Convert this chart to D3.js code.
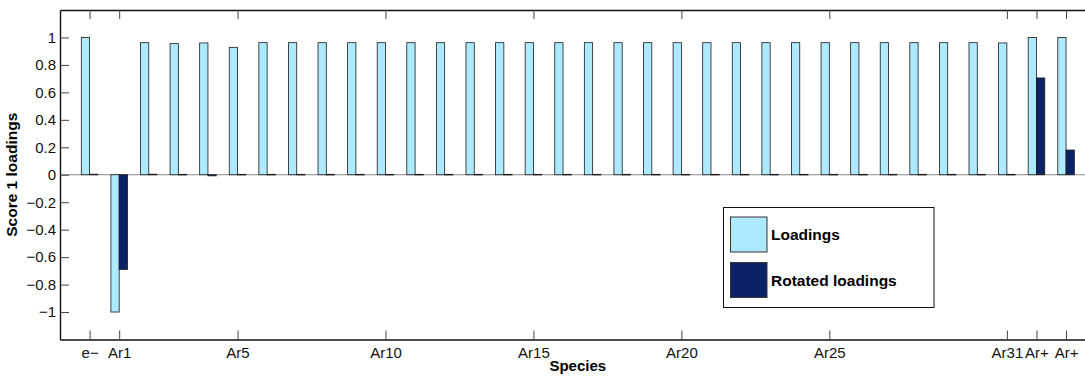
<!DOCTYPE html>
<html>
<head>
<meta charset="utf-8">
<script src="https://cdn.jsdelivr.net/npm/d3@7"></script>
<style>
  body { margin: 0; background: #fff; }
  svg { display: block; font-family: "Liberation Sans", Arial, Helvetica, sans-serif; }
</style>
</head>
<body>
<div id="chart"></div>
<script>
// categories along x (one per position 1..34)
var species = ['e\u2212', 'Ar1', 'Ar2', 'Ar3', 'Ar4', 'Ar5', 'Ar6', 'Ar7', 'Ar8', 'Ar9', 'Ar10',
  'Ar11', 'Ar12', 'Ar13', 'Ar14', 'Ar15', 'Ar16', 'Ar17', 'Ar18', 'Ar19', 'Ar20',
  'Ar21', 'Ar22', 'Ar23', 'Ar24', 'Ar25', 'Ar26', 'Ar27', 'Ar28', 'Ar29', 'Ar30', 'Ar31',
  'Ar+', 'Ar+'];

var loadings = [1.0, -1.0, 0.962, 0.955, 0.960, 0.928, 0.962, 0.962, 0.962, 0.962, 0.962,
  0.962, 0.962, 0.962, 0.962, 0.962, 0.962, 0.962, 0.962, 0.962, 0.962,
  0.962, 0.962, 0.962, 0.962, 0.962, 0.962, 0.962, 0.962, 0.962, 0.962, 0.960,
  1.0, 1.0];

var rotated = [0.004, -0.69, 0.004, 0.003, -0.008, 0.003, 0.003, 0.003, 0.003, 0.003, 0.003,
  0.003, 0.003, 0.003, 0.003, 0.003, 0.003, 0.003, 0.003, 0.003, 0.003,
  0.003, 0.003, 0.003, 0.003, 0.003, 0.003, 0.003, 0.003, 0.003, 0.003, 0.003,
  0.705, 0.18];

// labelled x ticks (position -> label)
var xTickPos = [1, 2, 6, 11, 16, 21, 26, 32, 33, 34];
var yTicks = [-1, -0.8, -0.6, -0.4, -0.2, 0, 0.2, 0.4, 0.6, 0.8, 1];

var seriesNames = ['Loadings', 'Rotated loadings'];
var seriesColors = ['#aeeaff', '#0b2366'];

(function() {
  var W = 1085, H = 377;
  var mLeft = 60, mTop = 10, mBottom = 339.5, step = 29.59;

  var svg = d3.select('#chart').append('svg').attr('width', W).attr('height', H);

  var x = d3.scaleLinear().domain([0, 35]).range([mLeft, mLeft + 35 * step]);
  var y = d3.scaleLinear().domain([-1.2, 1.2]).range([mBottom, mTop]);
  var bw = 0.28;

  var fmt = function(v) {
    var s = (Math.round(v * 10) / 10).toString();
    return s.replace('-', '\u2212');
  };

  // baseline
  svg.append('line')
    .attr('x1', x(0)).attr('x2', x(35))
    .attr('y1', y(0)).attr('y2', y(0))
    .attr('stroke', '#8a8a8a').attr('stroke-width', 1);

  var data = species.map(function(s, i) {
    return { pos: i + 1, a: loadings[i], b: rotated[i] };
  });

  var drawBars = function(key, off, color) {
    svg.append('g').selectAll('rect').data(data).enter().append('rect')
      .attr('x', function(d) { return x(d.pos + off); })
      .attr('width', x(bw) - x(0))
      .attr('y', function(d) { return y(Math.max(0, d[key])); })
      .attr('height', function(d) { return Math.max(0.6, Math.abs(y(d[key]) - y(0))); })
      .attr('fill', color)
      .attr('stroke', '#1a1a1a').attr('stroke-width', 0.8);
  };
  drawBars('a', -bw, seriesColors[0]);
  drawBars('b', 0, seriesColors[1]);

  // axes box (left, top, bottom; right side runs off the page)
  var tickLen = 9;
  var xAxisB = d3.axisBottom(x).tickValues(xTickPos).tickSizeInner(-tickLen).tickSizeOuter(0)
    .tickPadding(8).tickFormat(function(d) { return species[d - 1]; });
  var gx = svg.append('g').attr('transform', 'translate(0,' + mBottom + ')').call(xAxisB);
  var xAxisT = d3.axisTop(x).tickValues(xTickPos).tickSizeInner(-tickLen).tickSizeOuter(0)
    .tickFormat('');
  var gxt = svg.append('g').attr('transform', 'translate(0,' + mTop + ')').call(xAxisT);
  var yAxisL = d3.axisLeft(y).tickValues(yTicks).tickSizeInner(-tickLen).tickSizeOuter(0)
    .tickFormat(fmt);
  var gy = svg.append('g').attr('transform', 'translate(' + mLeft + ',0)').call(yAxisL);

  [gx, gxt, gy].forEach(function(g) {
    g.select('.domain').attr('stroke', '#111').attr('stroke-width', 1.4);
    g.selectAll('.tick line').attr('stroke', '#444').attr('stroke-width', 1);
    g.selectAll('.tick text').attr('fill', '#111').style('font-size', '15px')
      .style('font-family', '"Liberation Sans", Arial, sans-serif');
  });
  gy.selectAll('.tick text').attr('x', -4);
  gx.selectAll('.tick text').attr('dy', '0.7em');

  // axis titles
  svg.append('text')
    .attr('x', (x(0) + x(35)) / 2).attr('y', 371)
    .attr('text-anchor', 'middle')
    .style('font-size', '15px').style('font-weight', 'bold')
    .text('Species');

  svg.append('text')
    .attr('transform', 'translate(17,' + y(0) + ')rotate(-90)')
    .attr('text-anchor', 'middle')
    .style('font-size', '15.5px').style('font-weight', 'bold')
    .text('Score 1 loadings');

  // legend
  var lg = svg.append('g');
  lg.append('rect')
    .attr('x', 723.5).attr('y', 207.5).attr('width', 210.5).attr('height', 100)
    .attr('fill', '#fff').attr('stroke', '#111').attr('stroke-width', 1);
  seriesNames.forEach(function(n, i) {
    var yy = 217 + i * 45.5;
    lg.append('rect')
      .attr('x', 730.5).attr('y', yy).attr('width', 36.5).attr('height', 35)
      .attr('fill', seriesColors[i]).attr('stroke', '#333').attr('stroke-width', 1);
    lg.append('text')
      .attr('x', 771).attr('y', yy + 23)
      .style('font-size', '15.5px').style('font-weight', 'bold')
      .text(n);
  });
})();
</script>
</body>
</html>
